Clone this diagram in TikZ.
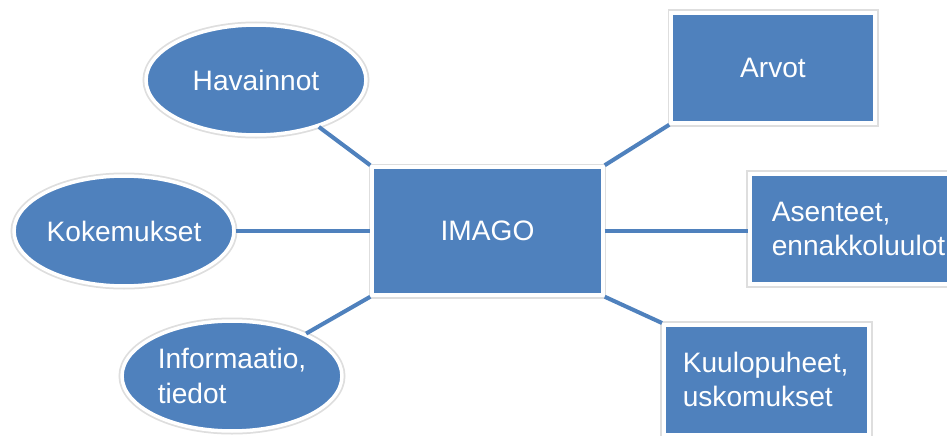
\documentclass[tikz,border=0pt]{standalone}
\usepackage{fontspec}
\setmainfont{Liberation Sans}
\usetikzlibrary{positioning,shapes.geometric}
\definecolor{smblue}{HTML}{4F81BD}
\tikzset{
  bub/.style={ellipse, fill=smblue, draw=white, line width=2pt, preaction={draw=black!13, line width=4pt},
    minimum width=4.4cm, minimum height=2.2cm, inner sep=0pt, align=left, text=white,
    font=\fontsize{16}{19.5}\selectfont},
  box/.style={rectangle, fill=smblue, draw=white, line width=2pt, preaction={draw=black!13, line width=4pt},
    minimum height=2.2cm, align=left, text=white, font=\fontsize{16}{19.5}\selectfont},
  link/.style={draw=smblue, line width=2.3pt},
}

\begin{document}
\begin{tikzpicture}[x=0.02cm, y=-0.02cm]
\useasboundingbox (0,0) rectangle (947,436);
\clip (0,0) rectangle (947,436);

% centre
\node[box, minimum width=4.62cm, minimum height=2.56cm, align=center] (imago) at (487.5,231) {IMAGO};

% left side
\node[bub] (havainnot) at (256,80) {Havainnot};
\node[bub] (kokemukset) at (124,231) {Kokemukset};
\node[bub] (informaatio) at (232,376) {Informaatio,\\tiedot};

% right side
\node[box, minimum width=4.08cm, align=center] (arvot) at (773,68) {Arvot};
\node[box, anchor=west, text width=3.45cm, inner xsep=0.44cm] (asenteet) at (748,229)
  {Asenteet,\\ennakkoluulot};
\node[box, anchor=north west, text width=3.35cm, inner xsep=0.38cm] (kuulo) at (662,323)
  {Kuulopuheet,\\uskomukset};

\draw[link] (havainnot) -- (imago.north west);
\draw[link] (kokemukset) -- (imago);
\draw[link] (informaatio) -- (imago.south west);
\draw[link] (imago.north east) -- (arvot.south west);
\draw[link] (imago.east) -- (asenteet.west |- imago.east);
\draw[link] (imago.south east) -- (kuulo.north west);

\end{tikzpicture}
\end{document}
